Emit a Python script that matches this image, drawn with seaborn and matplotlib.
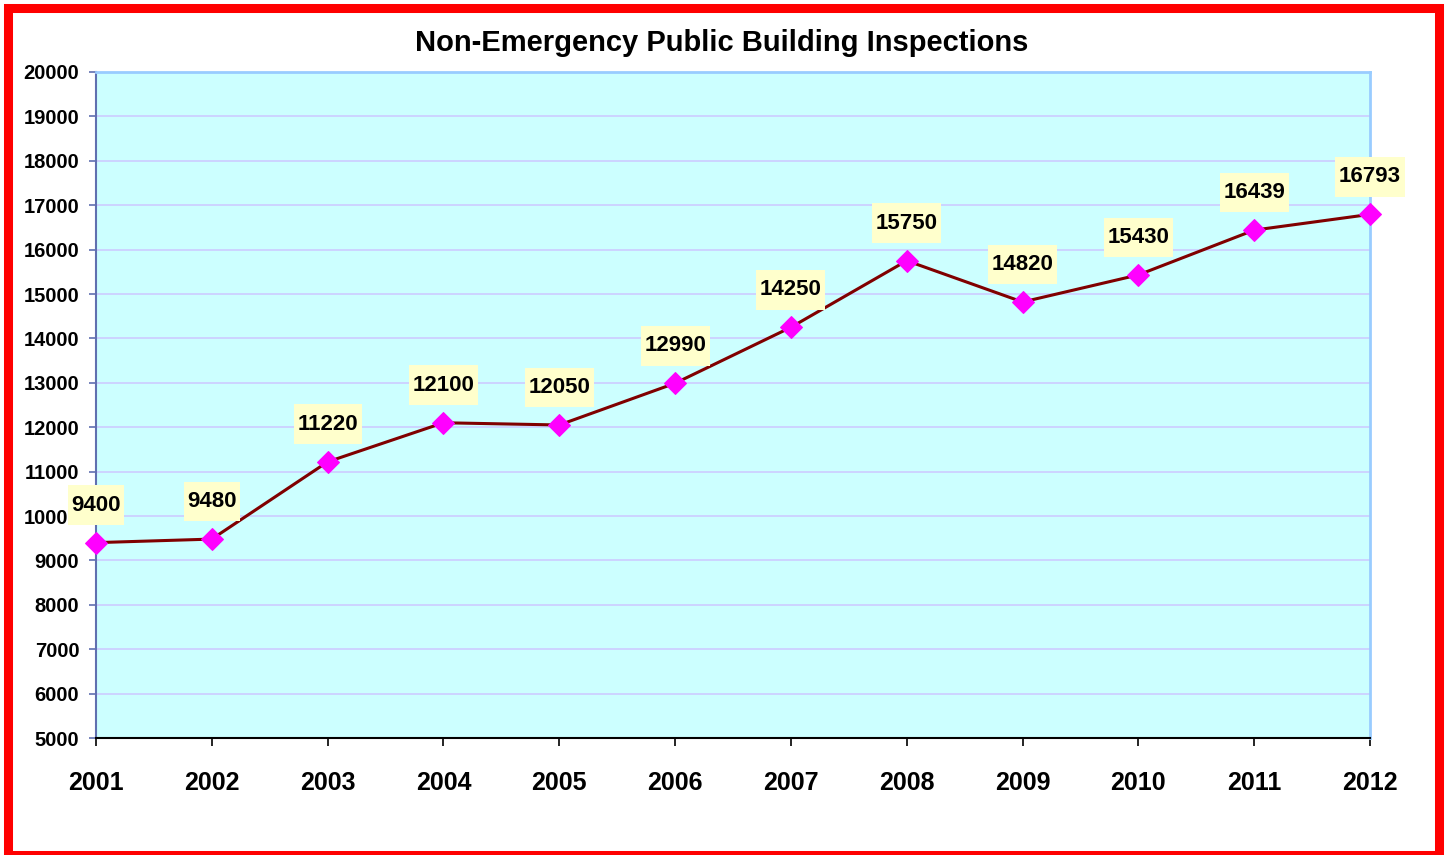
import pandas as pd
import seaborn as sns
import matplotlib.pyplot as plt
from matplotlib.patches import Rectangle
from matplotlib.path import Path

# data
years = [2001, 2002, 2003, 2004, 2005, 2006, 2007, 2008, 2009, 2010, 2011, 2012]
inspections = [9400, 9480, 11220, 12100, 12050, 12990, 14250, 15750, 14820, 15430, 16439, 16793]
y_ticks = list(range(5000, 20001, 1000))
title = "Non-Emergency Public Building Inspections"

df = pd.DataFrame({"year": years, "inspections": inspections})

sns.set_style("white")
plt.rcParams['font.family'] = ['Liberation Sans', 'DejaVu Sans']
plt.rcParams['text.color'] = 'black'
plt.rcParams['xtick.color'] = 'black'
plt.rcParams['ytick.color'] = 'black'


def label_box(x0, y0, width, height, mutation_size):
    # narrow side padding, taller top/bottom padding like the excel labels
    px = 0.16 * mutation_size
    py = 0.42 * mutation_size
    x0, x1 = x0 - px, x0 + width + px
    y0, y1 = y0 - py, y0 + height + py
    return Path([(x0, y0), (x1, y0), (x1, y1), (x0, y1), (x0, y0)], closed=True)


fig = plt.figure(figsize=(14.45, 8.55), dpi=100)
ax = fig.add_axes([96 / 1445, 1 - 738 / 855, (1370 - 96) / 1445, (738 - 72) / 855])
ax.set_facecolor("#CCFFFF")

sns.lineplot(data=df, x="year", y="inspections", ax=ax, color="#800000", linewidth=2.2,
             marker="D", markersize=11, markerfacecolor="#FF00FF", markeredgecolor="#FF00FF",
             zorder=3)
for ln in ax.lines:
    ln.set_clip_on(False)

# value labels in light yellow boxes above each point
for yr, val in zip(years, inspections):
    ax.annotate(str(val), (yr, val), xytext=(0, 27), textcoords="offset points",
                ha="center", va="center", fontsize=16, fontweight="bold", color="black",
                bbox=dict(boxstyle=label_box, facecolor="#FFFFCC", edgecolor="none"),
                annotation_clip=False, zorder=5)

ax.set_xlim(2001, 2012)
ax.set_ylim(5000, 20000)
ax.set_xticks(years)
ax.set_xticklabels([str(y) for y in years])
ax.set_yticks(y_ticks)
ax.set_yticklabels([str(v) for v in y_ticks])
ax.yaxis.grid(True, color="#CCCCFF", linewidth=1.2)
ax.xaxis.grid(False)

ax.tick_params(axis="y", direction="out", length=5, width=1.2, color="#6070B0",
               labelcolor="black", labelsize=14.5, pad=7, left=True)
ax.tick_params(axis="x", direction="out", length=6, width=1.2, color="black",
               labelcolor="black", labelsize=18, pad=18, bottom=True)
for lab in ax.get_xticklabels() + ax.get_yticklabels():
    lab.set_fontweight("bold")

ax.spines["left"].set_color("#6070B0")
ax.spines["left"].set_linewidth(1.5)
ax.spines["bottom"].set_color("black")
ax.spines["bottom"].set_linewidth(1.5)
ax.spines["top"].set_color("#99CCFF")
ax.spines["top"].set_linewidth(2)
ax.spines["right"].set_color("#99CCFF")
ax.spines["right"].set_linewidth(2)

ax.set_xlabel("")
ax.set_ylabel("")
ax.set_title(title, fontsize=21, fontweight="bold", color="black", pad=15,
             x=(722 - 96) / 1274)

# red outer frame
fig.patches.append(Rectangle((7.5 / 1445, 0.0), (1439 - 7.5) / 1445, 1 - 8 / 855,
                             transform=fig.transFigure, fill=False, edgecolor="#FF0000",
                             linewidth=6.5, zorder=10))

fig.savefig("out.png", dpi=100, facecolor="white")
